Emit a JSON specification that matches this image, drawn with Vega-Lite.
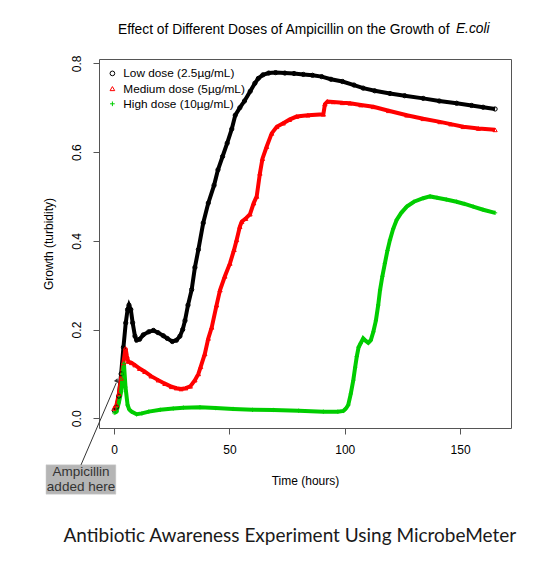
{
  "$schema": "https://vega.github.io/schema/vega-lite/v6.json",
  "width": 412,
  "height": 369,
  "autosize": {"type": "none"},
  "padding": {"left": 99, "top": 59, "right": 26, "bottom": 134},
  "background": "white",
  "title": {
    "text": "Effect of Different Doses of Ampicillin on the Growth of",
    "anchor": "start",
    "frame": "group",
    "dx": 19,
    "fontSize": 13.8,
    "fontWeight": "normal",
    "font": "Liberation Sans",
    "color": "#000",
    "offset": -15
  },
  "config": {
    "font": "Liberation Sans",
    "view": {"stroke": "#555", "strokeWidth": 1},
    "axis": {
      "grid": false,
      "domain": false,
      "tickColor": "#555",
      "tickSize": 6,
      "labelFont": "Liberation Sans",
      "labelFontSize": 12,
      "labelColor": "#000",
      "titleFont": "Liberation Sans",
      "titleFontSize": 12,
      "titleFontWeight": "normal",
      "titleColor": "#000"
    },
    "legend": {
      "labelFont": "Liberation Sans",
      "labelFontSize": 11.8,
      "labelColor": "#000",
      "symbolSize": 22,
      "symbolStrokeWidth": 1,
      "rowPadding": 2.2,
      "labelOffset": 5,
      "padding": 0
    }
  },
  "datasets": {
    "growth": [
      {"d": "Low dose (2.5µg/mL)", "t": 0, "v": 0.018},
      {"d": "Low dose (2.5µg/mL)", "t": 1, "v": 0.025},
      {"d": "Low dose (2.5µg/mL)", "t": 2, "v": 0.05},
      {"d": "Low dose (2.5µg/mL)", "t": 3, "v": 0.1},
      {"d": "Low dose (2.5µg/mL)", "t": 4, "v": 0.16},
      {"d": "Low dose (2.5µg/mL)", "t": 5, "v": 0.215},
      {"d": "Low dose (2.5µg/mL)", "t": 5.8, "v": 0.245},
      {"d": "Low dose (2.5µg/mL)", "t": 6.4, "v": 0.255},
      {"d": "Low dose (2.5µg/mL)", "t": 7.2, "v": 0.245},
      {"d": "Low dose (2.5µg/mL)", "t": 8, "v": 0.215},
      {"d": "Low dose (2.5µg/mL)", "t": 9, "v": 0.185},
      {"d": "Low dose (2.5µg/mL)", "t": 9.7, "v": 0.176},
      {"d": "Low dose (2.5µg/mL)", "t": 11, "v": 0.178},
      {"d": "Low dose (2.5µg/mL)", "t": 12.6, "v": 0.188},
      {"d": "Low dose (2.5µg/mL)", "t": 15, "v": 0.195},
      {"d": "Low dose (2.5µg/mL)", "t": 17, "v": 0.198},
      {"d": "Low dose (2.5µg/mL)", "t": 19, "v": 0.193},
      {"d": "Low dose (2.5µg/mL)", "t": 21.3, "v": 0.186},
      {"d": "Low dose (2.5µg/mL)", "t": 23, "v": 0.18},
      {"d": "Low dose (2.5µg/mL)", "t": 25.2, "v": 0.173},
      {"d": "Low dose (2.5µg/mL)", "t": 27, "v": 0.176},
      {"d": "Low dose (2.5µg/mL)", "t": 28.5, "v": 0.185},
      {"d": "Low dose (2.5µg/mL)", "t": 29.7, "v": 0.2},
      {"d": "Low dose (2.5µg/mL)", "t": 30.7, "v": 0.22},
      {"d": "Low dose (2.5µg/mL)", "t": 32, "v": 0.255},
      {"d": "Low dose (2.5µg/mL)", "t": 33.6, "v": 0.29},
      {"d": "Low dose (2.5µg/mL)", "t": 35, "v": 0.34},
      {"d": "Low dose (2.5µg/mL)", "t": 36.5, "v": 0.38},
      {"d": "Low dose (2.5µg/mL)", "t": 38.6, "v": 0.44},
      {"d": "Low dose (2.5µg/mL)", "t": 40.8, "v": 0.485},
      {"d": "Low dose (2.5µg/mL)", "t": 43.3, "v": 0.525},
      {"d": "Low dose (2.5µg/mL)", "t": 45, "v": 0.56},
      {"d": "Low dose (2.5µg/mL)", "t": 47, "v": 0.59},
      {"d": "Low dose (2.5µg/mL)", "t": 49, "v": 0.62},
      {"d": "Low dose (2.5µg/mL)", "t": 51, "v": 0.652},
      {"d": "Low dose (2.5µg/mL)", "t": 52.5, "v": 0.683},
      {"d": "Low dose (2.5µg/mL)", "t": 54.5, "v": 0.7},
      {"d": "Low dose (2.5µg/mL)", "t": 56.5, "v": 0.715},
      {"d": "Low dose (2.5µg/mL)", "t": 59, "v": 0.737},
      {"d": "Low dose (2.5µg/mL)", "t": 61, "v": 0.755},
      {"d": "Low dose (2.5µg/mL)", "t": 62.5, "v": 0.766},
      {"d": "Low dose (2.5µg/mL)", "t": 64.5, "v": 0.774},
      {"d": "Low dose (2.5µg/mL)", "t": 67, "v": 0.778},
      {"d": "Low dose (2.5µg/mL)", "t": 70, "v": 0.779},
      {"d": "Low dose (2.5µg/mL)", "t": 74, "v": 0.778},
      {"d": "Low dose (2.5µg/mL)", "t": 78, "v": 0.777},
      {"d": "Low dose (2.5µg/mL)", "t": 82, "v": 0.775},
      {"d": "Low dose (2.5µg/mL)", "t": 86, "v": 0.773},
      {"d": "Low dose (2.5µg/mL)", "t": 90, "v": 0.77},
      {"d": "Low dose (2.5µg/mL)", "t": 94, "v": 0.764},
      {"d": "Low dose (2.5µg/mL)", "t": 99, "v": 0.759},
      {"d": "Low dose (2.5µg/mL)", "t": 104, "v": 0.751},
      {"d": "Low dose (2.5µg/mL)", "t": 108, "v": 0.744},
      {"d": "Low dose (2.5µg/mL)", "t": 113, "v": 0.738},
      {"d": "Low dose (2.5µg/mL)", "t": 119.6, "v": 0.732},
      {"d": "Low dose (2.5µg/mL)", "t": 126, "v": 0.727},
      {"d": "Low dose (2.5µg/mL)", "t": 134, "v": 0.721},
      {"d": "Low dose (2.5µg/mL)", "t": 141, "v": 0.715},
      {"d": "Low dose (2.5µg/mL)", "t": 148.5, "v": 0.71},
      {"d": "Low dose (2.5µg/mL)", "t": 155, "v": 0.705},
      {"d": "Low dose (2.5µg/mL)", "t": 160, "v": 0.701},
      {"d": "Low dose (2.5µg/mL)", "t": 165.2, "v": 0.697},
      {"d": "Medium dose (5µg/mL)", "t": 0, "v": 0.022},
      {"d": "Medium dose (5µg/mL)", "t": 1, "v": 0.03},
      {"d": "Medium dose (5µg/mL)", "t": 2, "v": 0.055},
      {"d": "Medium dose (5µg/mL)", "t": 3, "v": 0.09},
      {"d": "Medium dose (5µg/mL)", "t": 4, "v": 0.125},
      {"d": "Medium dose (5µg/mL)", "t": 4.9, "v": 0.158},
      {"d": "Medium dose (5µg/mL)", "t": 5.5, "v": 0.14},
      {"d": "Medium dose (5µg/mL)", "t": 6.1, "v": 0.128},
      {"d": "Medium dose (5µg/mL)", "t": 7.5, "v": 0.125},
      {"d": "Medium dose (5µg/mL)", "t": 9, "v": 0.12},
      {"d": "Medium dose (5µg/mL)", "t": 11, "v": 0.112},
      {"d": "Medium dose (5µg/mL)", "t": 13.3, "v": 0.105},
      {"d": "Medium dose (5µg/mL)", "t": 16, "v": 0.095},
      {"d": "Medium dose (5µg/mL)", "t": 19.1, "v": 0.086},
      {"d": "Medium dose (5µg/mL)", "t": 22, "v": 0.078},
      {"d": "Medium dose (5µg/mL)", "t": 24.9, "v": 0.071},
      {"d": "Medium dose (5µg/mL)", "t": 27, "v": 0.068},
      {"d": "Medium dose (5µg/mL)", "t": 29, "v": 0.066},
      {"d": "Medium dose (5µg/mL)", "t": 31, "v": 0.068},
      {"d": "Medium dose (5µg/mL)", "t": 33, "v": 0.072},
      {"d": "Medium dose (5µg/mL)", "t": 35, "v": 0.086},
      {"d": "Medium dose (5µg/mL)", "t": 36.5, "v": 0.1},
      {"d": "Medium dose (5µg/mL)", "t": 37.5, "v": 0.116},
      {"d": "Medium dose (5µg/mL)", "t": 39.3, "v": 0.145},
      {"d": "Medium dose (5µg/mL)", "t": 40.8, "v": 0.18},
      {"d": "Medium dose (5µg/mL)", "t": 42.3, "v": 0.205},
      {"d": "Medium dose (5µg/mL)", "t": 44.4, "v": 0.255},
      {"d": "Medium dose (5µg/mL)", "t": 45.9, "v": 0.289},
      {"d": "Medium dose (5µg/mL)", "t": 48, "v": 0.32},
      {"d": "Medium dose (5µg/mL)", "t": 50.2, "v": 0.349},
      {"d": "Medium dose (5µg/mL)", "t": 52, "v": 0.38},
      {"d": "Medium dose (5µg/mL)", "t": 53.1, "v": 0.402},
      {"d": "Medium dose (5µg/mL)", "t": 54.5, "v": 0.432},
      {"d": "Medium dose (5µg/mL)", "t": 55.3, "v": 0.443},
      {"d": "Medium dose (5µg/mL)", "t": 57, "v": 0.45},
      {"d": "Medium dose (5µg/mL)", "t": 58.9, "v": 0.46},
      {"d": "Medium dose (5µg/mL)", "t": 60.5, "v": 0.485},
      {"d": "Medium dose (5µg/mL)", "t": 61.8, "v": 0.5},
      {"d": "Medium dose (5µg/mL)", "t": 63.2, "v": 0.552},
      {"d": "Medium dose (5µg/mL)", "t": 64.3, "v": 0.585},
      {"d": "Medium dose (5µg/mL)", "t": 66.1, "v": 0.612},
      {"d": "Medium dose (5µg/mL)", "t": 68.3, "v": 0.642},
      {"d": "Medium dose (5µg/mL)", "t": 70.5, "v": 0.657},
      {"d": "Medium dose (5µg/mL)", "t": 73.3, "v": 0.665},
      {"d": "Medium dose (5µg/mL)", "t": 76, "v": 0.673},
      {"d": "Medium dose (5µg/mL)", "t": 79.1, "v": 0.68},
      {"d": "Medium dose (5µg/mL)", "t": 84, "v": 0.683},
      {"d": "Medium dose (5µg/mL)", "t": 90.7, "v": 0.685},
      {"d": "Medium dose (5µg/mL)", "t": 91.4, "v": 0.708},
      {"d": "Medium dose (5µg/mL)", "t": 92.5, "v": 0.714},
      {"d": "Medium dose (5µg/mL)", "t": 95, "v": 0.713},
      {"d": "Medium dose (5µg/mL)", "t": 99, "v": 0.711},
      {"d": "Medium dose (5µg/mL)", "t": 102.3, "v": 0.71},
      {"d": "Medium dose (5µg/mL)", "t": 107, "v": 0.706},
      {"d": "Medium dose (5µg/mL)", "t": 112.4, "v": 0.702},
      {"d": "Medium dose (5µg/mL)", "t": 119, "v": 0.693},
      {"d": "Medium dose (5µg/mL)", "t": 126.9, "v": 0.683},
      {"d": "Medium dose (5µg/mL)", "t": 134, "v": 0.675},
      {"d": "Medium dose (5µg/mL)", "t": 141.3, "v": 0.668},
      {"d": "Medium dose (5µg/mL)", "t": 146, "v": 0.663},
      {"d": "Medium dose (5µg/mL)", "t": 151.4, "v": 0.657},
      {"d": "Medium dose (5µg/mL)", "t": 158, "v": 0.653},
      {"d": "Medium dose (5µg/mL)", "t": 165.2, "v": 0.65},
      {"d": "High dose (10µg/mL)", "t": 0, "v": 0.012},
      {"d": "High dose (10µg/mL)", "t": 1, "v": 0.015},
      {"d": "High dose (10µg/mL)", "t": 2, "v": 0.035},
      {"d": "High dose (10µg/mL)", "t": 3, "v": 0.06},
      {"d": "High dose (10µg/mL)", "t": 3.7, "v": 0.1},
      {"d": "High dose (10µg/mL)", "t": 4.2, "v": 0.124},
      {"d": "High dose (10µg/mL)", "t": 4.9, "v": 0.07},
      {"d": "High dose (10µg/mL)", "t": 5.8, "v": 0.03},
      {"d": "High dose (10µg/mL)", "t": 6.5, "v": 0.02},
      {"d": "High dose (10µg/mL)", "t": 7.5, "v": 0.015},
      {"d": "High dose (10µg/mL)", "t": 9.7, "v": 0.009},
      {"d": "High dose (10µg/mL)", "t": 12, "v": 0.011},
      {"d": "High dose (10µg/mL)", "t": 15, "v": 0.015},
      {"d": "High dose (10µg/mL)", "t": 20, "v": 0.019},
      {"d": "High dose (10µg/mL)", "t": 25.6, "v": 0.022},
      {"d": "High dose (10µg/mL)", "t": 30, "v": 0.024},
      {"d": "High dose (10µg/mL)", "t": 37.2, "v": 0.025},
      {"d": "High dose (10µg/mL)", "t": 44, "v": 0.023},
      {"d": "High dose (10µg/mL)", "t": 51.6, "v": 0.021},
      {"d": "High dose (10µg/mL)", "t": 60, "v": 0.019},
      {"d": "High dose (10µg/mL)", "t": 69, "v": 0.0187},
      {"d": "High dose (10µg/mL)", "t": 80, "v": 0.017},
      {"d": "High dose (10µg/mL)", "t": 90.7, "v": 0.015},
      {"d": "High dose (10µg/mL)", "t": 97, "v": 0.015},
      {"d": "High dose (10µg/mL)", "t": 99.4, "v": 0.0165},
      {"d": "High dose (10µg/mL)", "t": 100.5, "v": 0.022},
      {"d": "High dose (10µg/mL)", "t": 101.5, "v": 0.03},
      {"d": "High dose (10µg/mL)", "t": 102.6, "v": 0.055},
      {"d": "High dose (10µg/mL)", "t": 103.7, "v": 0.086},
      {"d": "High dose (10µg/mL)", "t": 104.5, "v": 0.115},
      {"d": "High dose (10µg/mL)", "t": 105.2, "v": 0.139},
      {"d": "High dose (10µg/mL)", "t": 106, "v": 0.16},
      {"d": "High dose (10µg/mL)", "t": 106.9, "v": 0.169},
      {"d": "High dose (10µg/mL)", "t": 108, "v": 0.18},
      {"d": "High dose (10µg/mL)", "t": 109, "v": 0.175},
      {"d": "High dose (10µg/mL)", "t": 110.2, "v": 0.17},
      {"d": "High dose (10µg/mL)", "t": 111.3, "v": 0.176},
      {"d": "High dose (10µg/mL)", "t": 112.4, "v": 0.195},
      {"d": "High dose (10µg/mL)", "t": 113.5, "v": 0.22},
      {"d": "High dose (10µg/mL)", "t": 114.5, "v": 0.255},
      {"d": "High dose (10µg/mL)", "t": 115.3, "v": 0.289},
      {"d": "High dose (10µg/mL)", "t": 116.3, "v": 0.32},
      {"d": "High dose (10µg/mL)", "t": 117.4, "v": 0.349},
      {"d": "High dose (10µg/mL)", "t": 118.5, "v": 0.378},
      {"d": "High dose (10µg/mL)", "t": 119.6, "v": 0.402},
      {"d": "High dose (10µg/mL)", "t": 121, "v": 0.427},
      {"d": "High dose (10µg/mL)", "t": 122.5, "v": 0.447},
      {"d": "High dose (10µg/mL)", "t": 124.5, "v": 0.463},
      {"d": "High dose (10µg/mL)", "t": 126.9, "v": 0.477},
      {"d": "High dose (10µg/mL)", "t": 130, "v": 0.488},
      {"d": "High dose (10µg/mL)", "t": 134, "v": 0.496},
      {"d": "High dose (10µg/mL)", "t": 137, "v": 0.5},
      {"d": "High dose (10µg/mL)", "t": 140, "v": 0.497},
      {"d": "High dose (10µg/mL)", "t": 144, "v": 0.493},
      {"d": "High dose (10µg/mL)", "t": 148.5, "v": 0.488},
      {"d": "High dose (10µg/mL)", "t": 152, "v": 0.483},
      {"d": "High dose (10µg/mL)", "t": 155.7, "v": 0.477},
      {"d": "High dose (10µg/mL)", "t": 160, "v": 0.47},
      {"d": "High dose (10µg/mL)", "t": 165.2, "v": 0.463}
    ],
    "notes": [
      {"note": "Ampicillin\nadded here", "species": "E.coli", "caption": "Antibiotic Awareness Experiment Using MicrobeMeter"}
    ]
  },
  "layer": [
    {
      "data": {"name": "growth"},
      "mark": {"type": "line", "strokeWidth": 4, "interpolate": "linear"},
      "encoding": {
        "x": {
          "field": "t", "type": "quantitative",
          "scale": {"domain": [-6.6, 172.1], "nice": false, "zero": false},
          "axis": {"values": [0, 50, 100, 150], "title": "Time (hours)", "labelPadding": 10, "titlePadding": 20}
        },
        "y": {
          "field": "v", "type": "quantitative",
          "scale": {"domain": [-0.0219, 0.8097], "nice": false, "zero": false},
          "axis": {"values": [0, 0.2, 0.4, 0.6, 0.8], "format": ".1f", "labelAngle": 270, "labelAlign": "center", "labelBaseline": "bottom", "labelPadding": 10, "title": "Growth (turbidity)", "titlePadding": 15}
        },
        "color": {
          "field": "d", "type": "nominal",
          "scale": {"domain": ["Low dose (2.5µg/mL)", "Medium dose (5µg/mL)", "High dose (10µg/mL)"], "range": ["#000000", "#FF0000", "#00CD00"]},
          "legend": {"orient": "none", "legendX": 7.5, "legendY": 8.5, "title": null}
        },
        "order": {"field": "t", "type": "quantitative"}
      }
    },
    {
      "data": {"name": "growth"},
      "mark": {"type": "point", "filled": false, "strokeWidth": 1, "size": 18, "opacity": 1},
      "encoding": {
        "x": {"field": "t", "type": "quantitative"},
        "y": {"field": "v", "type": "quantitative"},
        "color": {
          "field": "d", "type": "nominal",
          "legend": {"orient": "none", "legendX": 7.5, "legendY": 8.5, "title": null}
        },
        "shape": {
          "field": "d", "type": "nominal",
          "scale": {"domain": ["Low dose (2.5µg/mL)", "Medium dose (5µg/mL)", "High dose (10µg/mL)"], "range": ["circle", "triangle-up", "M-1,0H1M0,-1V1"]},
          "legend": {"orient": "none", "legendX": 7.5, "legendY": 8.5, "title": null}
        }
      }
    },
    {
      "data": {"name": "notes"},
      "mark": {"type": "rect", "fill": "#b5b5b5", "stroke": "#d0d0d0", "strokeWidth": 0.5},
      "encoding": {
        "x": {"datum": -29.6, "type": "quantitative"},
        "x2": {"datum": 0.7},
        "y": {"datum": -0.105, "type": "quantitative"},
        "y2": {"datum": -0.171}
      }
    },
    {
      "data": {"name": "notes"},
      "mark": {"type": "rule", "color": "#333", "strokeWidth": 1},
      "encoding": {
        "x": {"datum": -14.4, "type": "quantitative"},
        "y": {"datum": -0.105, "type": "quantitative"},
        "x2": {"datum": 0.9},
        "y2": {"datum": 0.08}
      }
    },
    {
      "data": {"name": "notes"},
      "mark": {"type": "point", "shape": "triangle-up", "filled": true, "color": "#333", "size": 22, "angle": 23, "opacity": 1},
      "encoding": {
        "x": {"datum": 1.1, "type": "quantitative"},
        "y": {"datum": 0.086, "type": "quantitative"}
      }
    },
    {
      "data": {"name": "notes"},
      "mark": {"type": "text", "font": "Liberation Sans", "fontSize": 13.5, "color": "#333", "lineBreak": "\n", "lineHeight": 15, "align": "center", "baseline": "middle"},
      "encoding": {
        "x": {"datum": -14.4, "type": "quantitative"},
        "y": {"datum": -0.122, "type": "quantitative"},
        "text": {"field": "note"}
      }
    },
    {
      "data": {"name": "notes"},
      "mark": {"type": "text", "font": "Liberation Sans", "fontSize": 13.8, "fontStyle": "italic", "color": "#000", "align": "left", "baseline": "alphabetic"},
      "encoding": {
        "x": {"datum": 148.2, "type": "quantitative"},
        "y": {"datum": 0.868, "type": "quantitative"},
        "text": {"field": "species"}
      }
    },
    {
      "data": {"name": "notes"},
      "mark": {"type": "text", "font": "Lato", "fontSize": 19, "color": "#1a1a1a", "align": "center", "baseline": "middle"},
      "encoding": {
        "x": {"datum": 76.2, "type": "quantitative"},
        "y": {"datum": -0.265, "type": "quantitative"},
        "text": {"field": "caption"}
      }
    }
  ]
}
